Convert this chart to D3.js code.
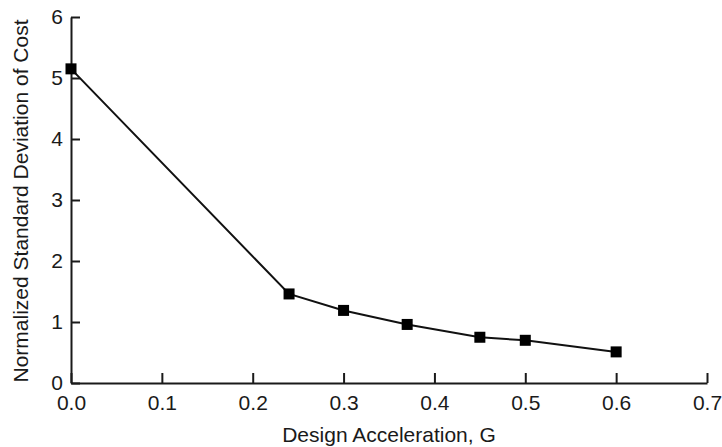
<!DOCTYPE html>
<html>
<head>
<meta charset="utf-8">
<script src="https://cdn.jsdelivr.net/npm/d3@7"></script>
<style>
  body { margin: 0; background: #fff; }
  text { font-family: "Liberation Sans", Arial, Helvetica, sans-serif; fill: #1a1a1a; }
</style>
</head>
<body>
<div id="chart"></div>
<script>
"use strict"

// data
let accel = [0.0, 0.24, 0.30, 0.37, 0.45, 0.50, 0.60];
let stdCost = [5.15, 1.46, 1.19, 0.96, 0.75, 0.70, 0.51];
let xTicks = [0.0, 0.1, 0.2, 0.3, 0.4, 0.5, 0.6, 0.7];
let yTicks = [0, 1, 2, 3, 4, 5, 6];

let width = 722,
    height = 447;

let svg = d3.select("#chart")
    .append("svg")
    .attr("width", width)
    .attr("height", height);

let x = d3.scaleLinear().domain([0, 0.7]).range([71, 707]);
let y = d3.scaleLinear().domain([0, 6]).range([383, 17]);

// x axis, ticks pointing inward
let xAxis = svg.append("g")
    .attr("transform", "translate(0," + y(0) + ")")
    .call(d3.axisBottom(x).tickValues(xTicks).tickSize(-10).tickSizeOuter(0)
        .tickFormat(d3.format(".1f")));

// y axis
let yAxis = svg.append("g")
    .attr("transform", "translate(" + x(0) + ",0)")
    .call(d3.axisLeft(y).tickValues(yTicks).tickSize(-9).tickSizeOuter(0)
        .tickFormat(d3.format("d")));

[xAxis, yAxis].forEach(function (g) {
    g.select(".domain").attr("stroke", "#1a1a1a").attr("stroke-width", 2);
    g.selectAll(".tick line").attr("stroke", "#1a1a1a").attr("stroke-width", 2);
    g.selectAll(".tick text").style("font-size", "21px").attr("fill", "#1a1a1a");
});
xAxis.selectAll(".tick text").attr("y", 12);
yAxis.selectAll(".tick text").attr("x", -8);

// axis titles
svg.append("text")
    .attr("x", 389)
    .attr("y", 442)
    .attr("text-anchor", "middle")
    .style("font-size", "21px")
    .text("Design Acceleration, G");

svg.append("text")
    .attr("transform", "translate(28,201) rotate(-90)")
    .attr("text-anchor", "middle")
    .style("font-size", "21px")
    .text("Normalized Standard Deviation of Cost");

let points = accel.map(function (d, i) { return [d, stdCost[i]]; });

let line = d3.line()
    .x(function (d) { return x(d[0]); })
    .y(function (d) { return y(d[1]); });

svg.append("path")
    .datum(points)
    .attr("d", line)
    .attr("fill", "none")
    .attr("stroke", "#111")
    .attr("stroke-width", 2);

let s = 11;
svg.selectAll("rect.mark")
    .data(points)
    .enter()
    .append("rect")
    .attr("class", "mark")
    .attr("x", function (d) { return x(d[0]) - s / 2; })
    .attr("y", function (d) { return y(d[1]) - s / 2; })
    .attr("width", s)
    .attr("height", s)
    .attr("fill", "#000");
</script>
</body>
</html>
